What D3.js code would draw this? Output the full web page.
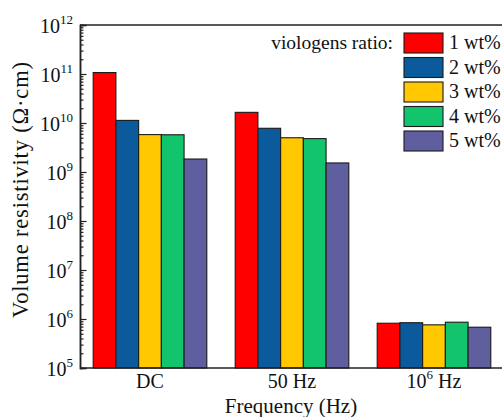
<!DOCTYPE html>
<html>
<head>
<meta charset="utf-8">
<script src="https://cdn.jsdelivr.net/npm/d3@7"></script>
<style>
  html, body { margin: 0; padding: 0; background: #fff; }
  svg { display: block; }
</style>
</head>
<body>
<svg id="chart" width="502" height="417"></svg>
<script>
// Frequencies on the x axis
const frequencies = ["DC", "50 Hz", "1e6 Hz"];
// Viologen loading of each series
const ratios = ["1 wt%", "2 wt%", "3 wt%", "4 wt%", "5 wt%"];
const colors = ["#ff0000", "#0a5a9c", "#ffc800", "#12c46c", "#5f5e9e"];
// Volume resistivity (Ω·cm) per ratio, in frequency order
const ratio1 = [1.07e11, 1.65e10, 8.2e5];
const ratio2 = [1.13e10, 7.8e9, 8.4e5];
const ratio3 = [5.8e9, 5.0e9, 7.6e5];
const ratio4 = [5.75e9, 4.8e9, 8.6e5];
const ratio5 = [1.84e9, 1.53e9, 6.8e5];
const seriesValues = [ratio1, ratio2, ratio3, ratio4, ratio5];
// Decade ticks on the y axis
const yExponents = [5, 6, 7, 8, 9, 10, 11, 12];

const FONT = "'Liberation Serif', 'DejaVu Serif', 'Noto Serif', serif";

const svg = d3.select("#chart")
  .attr("font-family", FONT)
  .style("font-family", FONT);
const plotLeft = 80, plotTop = 25, plotBottom = 368, plotRight = 505;

const y = d3.scaleLog().domain([1e5, 1e12]).range([plotBottom, plotTop]);
const x0 = d3.scaleBand().domain(frequencies).range([plotLeft - 1, plotRight])
  .paddingInner(0.2).paddingOuter(0.1);
const x1 = d3.scaleBand().domain(ratios).range([0, x0.bandwidth()]);

// Bars
const groups = svg.append("g").selectAll("g")
  .data(frequencies)
  .join("g")
  .attr("transform", d => `translate(${x0(d)},0)`);

groups.selectAll("rect")
  .data((f, fi) => ratios.map((r, ri) => ({ r, ri, v: seriesValues[ri][fi] })))
  .join("rect")
  .attr("x", d => x1(d.r))
  .attr("y", d => y(d.v))
  .attr("width", x1.bandwidth())
  .attr("height", d => plotBottom - y(d.v))
  .attr("fill", d => colors[d.ri])
  .attr("stroke", "#1a1a1a")
  .attr("stroke-width", 1.1);

// Left axis: inward major and minor ticks
const minorVals = [];
for (let e = 5; e < 12; e++) for (let m = 2; m <= 9; m++) minorVals.push(m * Math.pow(10, e));

const yMinor = svg.append("g").attr("transform", `translate(${plotLeft},0)`)
  .call(d3.axisLeft(y).tickValues(minorVals).tickSize(-3.5).tickFormat(""));
const yMajor = svg.append("g").attr("transform", `translate(${plotLeft},0)`)
  .call(d3.axisLeft(y).tickValues(yExponents.map(e => Math.pow(10, e))).tickSize(-6.5).tickFormat(""));
[yMinor, yMajor].forEach(g => {
  g.attr("font-family", null);
  g.selectAll("line").attr("stroke", "#222").attr("stroke-width", 1.2);
  g.select(".domain").attr("stroke", "#222").attr("stroke-width", 1.5);
});

function addText(parent) {
  return parent.append("text").style("font-family", FONT).attr("fill", "#111");
}

// Decade labels with superscript exponents
const yLabels = svg.append("g");
yExponents.forEach(e => {
  const t = addText(yLabels)
    .attr("x", 73)
    .attr("y", y(Math.pow(10, e)) + 8)
    .attr("text-anchor", "end")
    .attr("font-size", 20);
  t.append("tspan").text("10");
  t.append("tspan").attr("font-size", 13).attr("dy", -9).text(String(e));
});

// Bottom axis line and top frame line
svg.append("line").attr("x1", plotLeft).attr("x2", plotRight).attr("y1", plotBottom).attr("y2", plotBottom)
  .attr("stroke", "#222").attr("stroke-width", 1.5);
svg.append("line").attr("x1", plotLeft).attr("x2", plotRight).attr("y1", plotTop).attr("y2", plotTop)
  .attr("stroke", "#222").attr("stroke-width", 1.5);

// Frequency labels
frequencies.forEach(f => {
  const cx = x0(f) + x0.bandwidth() / 2;
  const t = addText(svg).attr("x", cx).attr("y", 388)
    .attr("text-anchor", "middle").attr("font-size", 20);
  if (f === "1e6 Hz") {
    t.append("tspan").text("10");
    t.append("tspan").attr("font-size", 13).attr("dy", -9).text("6");
    t.append("tspan").attr("dy", 9).text(" Hz");
  } else {
    t.text(f);
  }
});

// Axis titles
addText(svg).attr("x", 291).attr("y", 413).attr("text-anchor", "middle")
  .attr("font-size", 21).text("Frequency (Hz)");
addText(svg).attr("transform", "translate(28,190) rotate(-90)")
  .attr("text-anchor", "middle").attr("font-size", 22.5)
  .attr("textLength", 256).attr("lengthAdjust", "spacing")
  .text("Volume resistivity (Ω·cm)");

// Legend
const legend = svg.append("g");
addText(legend).attr("x", 393).attr("y", 48.5).attr("text-anchor", "end")
  .attr("font-size", 19.5)
  .text("viologens ratio:");
const items = legend.selectAll("g.item").data(ratios).join("g")
  .attr("class", "item")
  .attr("transform", (d, i) => `translate(404,${33 + i * 24.5})`);
items.append("rect").attr("width", 39).attr("height", 20)
  .attr("fill", (d, i) => colors[i]).attr("stroke", "#1a1a1a").attr("stroke-width", 1.1);
items.each(function(d) {
  addText(d3.select(this)).attr("x", 45).attr("y", 16).attr("font-size", 20).text(d);
});
</script>
</body>
</html>
